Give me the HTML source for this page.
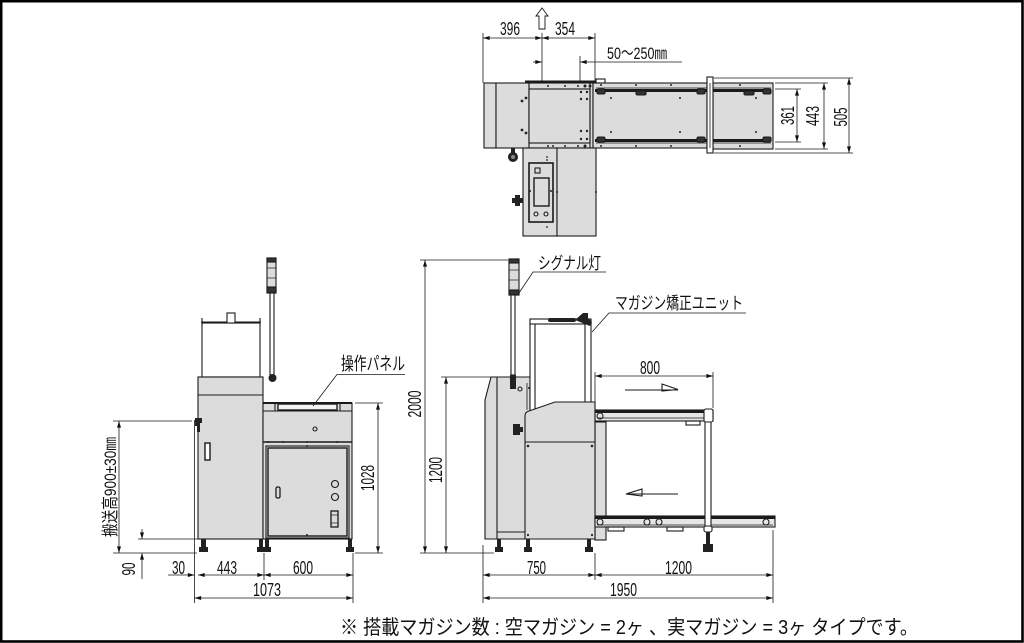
<!DOCTYPE html>
<html><head><meta charset="utf-8"><style>
html,body{margin:0;padding:0;background:#fff;}
svg{display:block;}
text{font-family:"Liberation Sans","Noto Sans CJK JP",sans-serif;fill:#111;stroke:none;}
</style></head><body>
<svg width="1024" height="643" viewBox="0 0 1024 643" xmlns="http://www.w3.org/2000/svg">
<defs>
<marker id="a" viewBox="0 0 10 6" refX="10" refY="3" markerWidth="7" markerHeight="4" orient="auto-start-reverse" markerUnits="userSpaceOnUse"><path d="M0,0L10,3L0,6z" fill="#111"/></marker>
</defs>
<rect x="0" y="0" width="1024" height="643" fill="#fff"/>
<rect x="1.2" y="1.2" width="1021.3" height="640.3" fill="none" stroke="#000" stroke-width="2.6"/>

<!-- ================= TOP VIEW ================= -->
<g stroke="#1a1a1a" stroke-width="1.1" fill="none">
<rect x="484" y="83" width="12" height="65" fill="#dcdcdc"/>
<rect x="496" y="83" width="33" height="65" fill="#dcdcdc"/>
<rect x="529" y="83" width="64" height="65" fill="#dcdcdc"/>
<rect x="529" y="89" width="61" height="54" fill="#dcdcdc"/>
<line x1="590" y1="83" x2="590" y2="148"/>
<line x1="525" y1="81.5" x2="596" y2="81.5" stroke-width="2"/>
<rect x="596" y="79" width="9" height="4" fill="#fff"/>
<rect x="593" y="83" width="114" height="65" fill="#dcdcdc"/>
<rect x="713" y="83" width="60" height="66" fill="#dcdcdc"/>
<line x1="596" y1="88" x2="771" y2="88" stroke-width="0.7"/>
<line x1="596" y1="143" x2="771" y2="143" stroke-width="0.7"/>
<line x1="595" y1="90.5" x2="771" y2="90.5" stroke-width="3"/>
<line x1="595" y1="140.5" x2="771" y2="140.5" stroke-width="3"/>
<rect x="707" y="77" width="6" height="76" fill="#fff"/>
<line x1="710" y1="83" x2="710" y2="148" stroke-width="0.8"/>
<rect x="597" y="89" width="8" height="5" rx="1.5" fill="#333"/>
<rect x="636" y="91" width="10" height="4" rx="1.5" fill="#333"/>
<rect x="697" y="89" width="8" height="5" rx="1.5" fill="#333"/>
<rect x="597" y="137" width="8" height="5" rx="1.5" fill="#333"/>
<rect x="697" y="137" width="8" height="5" rx="1.5" fill="#333"/>
<rect x="763" y="89" width="8" height="5" rx="1.5" fill="#333"/>
<rect x="763" y="137" width="8" height="5" rx="1.5" fill="#333"/>
<rect x="744" y="91" width="10" height="4" rx="1.5" fill="#333"/>
<rect x="523" y="148" width="34" height="88" fill="#dcdcdc"/>
<rect x="557" y="148" width="39" height="88" fill="#dcdcdc"/>
<rect x="529" y="163" width="24" height="59" fill="#dcdcdc" stroke-width="1.6"/>
<rect x="535" y="168" width="5" height="5"/>
<rect x="534" y="178" width="15" height="28" stroke-width="1.4"/>
<circle cx="536" cy="214" r="2"/>
<circle cx="546" cy="214" r="2"/>
</g>
<g fill="#222">
<rect x="511" y="148" width="4" height="5"/>
<circle cx="513" cy="157" r="5"/>
<circle cx="513" cy="157" r="2" fill="#888"/>
<path d="M515,195 h5 v3 h3 v5 h-3 v3 h-5 v-3 h-3 v-5 h3z"/>
<circle cx="522" cy="101" r="1.4"/><circle cx="526" cy="98" r="1.4"/>
<circle cx="522" cy="130" r="1.4"/><circle cx="526" cy="133" r="1.4"/>
<circle cx="548" cy="86" r="1"/><circle cx="565" cy="86" r="1"/><circle cx="578" cy="86" r="1"/>
<circle cx="585" cy="86" r="1.5"/><circle cx="590" cy="86" r="1.5"/>
<circle cx="548" cy="146" r="1"/><circle cx="553" cy="146" r="1"/><circle cx="565" cy="146" r="1"/><circle cx="578" cy="146" r="1"/><circle cx="585" cy="146" r="1.5"/>
<circle cx="581" cy="92" r="1.2"/><circle cx="587" cy="92" r="1.2"/><circle cx="581" cy="99" r="1.2"/><circle cx="587" cy="99" r="1.2"/>
<circle cx="581" cy="131" r="1.2"/><circle cx="587" cy="131" r="1.2"/><circle cx="581" cy="139" r="1.2"/><circle cx="587" cy="139" r="1.2"/>
<circle cx="601" cy="85" r="1"/><circle cx="636" cy="85" r="1"/><circle cx="671" cy="85" r="1"/><circle cx="740" cy="85" r="1"/>
<circle cx="601" cy="146" r="1"/><circle cx="636" cy="146" r="1"/><circle cx="671" cy="146" r="1"/><circle cx="740" cy="146" r="1"/>
<circle cx="611" cy="98" r="1"/><circle cx="680" cy="98" r="1"/><circle cx="611" cy="132" r="1"/><circle cx="680" cy="132" r="1"/>
<circle cx="756" cy="98" r="1"/><circle cx="756" cy="132" r="1"/>
<circle cx="557" cy="192" r="1"/><circle cx="596" cy="192" r="1"/><circle cx="530" cy="191" r="1"/><circle cx="551" cy="191" r="1"/>
<circle cx="547" cy="157" r="0.9"/><circle cx="547" cy="160" r="0.9"/><circle cx="547" cy="227" r="0.9"/>
</g>
<g stroke="#1a1a1a" stroke-width="0.8" fill="none">
<line x1="483" y1="33" x2="483" y2="83"/>
<line x1="542" y1="33" x2="542" y2="82"/>
<line x1="595" y1="33" x2="595" y2="81"/>
<line x1="580" y1="56" x2="580" y2="81"/>
<line x1="483" y1="38" x2="542" y2="38" marker-start="url(#a)" marker-end="url(#a)"/>
<line x1="542" y1="38" x2="595" y2="38" marker-start="url(#a)" marker-end="url(#a)"/>
<line x1="533" y1="62" x2="542" y2="62" marker-end="url(#a)"/>
<line x1="682" y1="62" x2="580" y2="62" marker-end="url(#a)"/>
<path d="M542,8 L548,16 L545,16 L545,29 L539,29 L539,16 L536,16 Z" stroke-width="0.9"/>
<line x1="714" y1="78" x2="853" y2="78"/>
<line x1="714" y1="153" x2="853" y2="153"/>
<line x1="775" y1="83" x2="828" y2="83"/>
<line x1="775" y1="149" x2="828" y2="149"/>
<line x1="775" y1="89" x2="801" y2="89"/>
<line x1="775" y1="142" x2="801" y2="142"/>
<line x1="849" y1="78" x2="849" y2="153" marker-start="url(#a)" marker-end="url(#a)"/>
<line x1="824" y1="83" x2="824" y2="149" marker-start="url(#a)" marker-end="url(#a)"/>
<line x1="797" y1="89" x2="797" y2="142" marker-start="url(#a)" marker-end="url(#a)"/>
</g>
<text x="500" y="35" font-size="18" textLength="20" lengthAdjust="spacingAndGlyphs">396</text>
<text x="555" y="35" font-size="18" textLength="20" lengthAdjust="spacingAndGlyphs">354</text>
<text x="607" y="59" font-size="17" textLength="60" lengthAdjust="spacingAndGlyphs">50～250㎜</text>
<text transform="translate(794,115.5) rotate(-90)" text-anchor="middle" font-size="18" textLength="19" lengthAdjust="spacingAndGlyphs">361</text>
<text transform="translate(819,116) rotate(-90)" text-anchor="middle" font-size="18" textLength="20" lengthAdjust="spacingAndGlyphs">443</text>
<text transform="translate(847,117) rotate(-90)" text-anchor="middle" font-size="18" textLength="19" lengthAdjust="spacingAndGlyphs">505</text>

<!-- ================= FRONT (LEFT) VIEW ================= -->
<g stroke="#1a1a1a" stroke-width="1.1" fill="none">
<rect x="267" y="258" width="9" height="35" fill="#dcdcdc"/>
<rect x="267" y="258" width="9" height="4" fill="#333"/>
<rect x="267" y="287" width="9" height="6" fill="#333"/>
<line x1="267" y1="268" x2="276" y2="268" stroke-width="0.7"/>
<line x1="267" y1="278" x2="276" y2="278" stroke-width="0.7"/>
<rect x="270" y="293" width="4" height="82" fill="#fff"/>
<rect x="202" y="323" width="58" height="54" fill="#fff"/>
<line x1="201" y1="322" x2="261" y2="322"/>
<line x1="202" y1="318" x2="202" y2="325"/>
<line x1="260" y1="318" x2="260" y2="325"/>
<rect x="227" y="313" width="8" height="10" fill="#fff"/>
<rect x="198" y="377" width="65" height="162" fill="#dcdcdc"/>
<line x1="198" y1="395" x2="263" y2="395"/>
<rect x="205" y="443" width="5" height="17" fill="#fff" stroke-width="1.4"/>
<rect x="263" y="403" width="89" height="136" fill="#dcdcdc"/>
<line x1="263" y1="403" x2="352" y2="403" stroke-width="2"/>
<line x1="263" y1="411" x2="352" y2="411"/>
<line x1="275" y1="403" x2="275" y2="411"/>
<line x1="340" y1="403" x2="340" y2="411"/>
<rect x="278" y="404" width="59" height="6" fill="#f4f4f4" stroke-width="1.4"/>
<circle cx="315" cy="429" r="2"/>
<line x1="263" y1="442" x2="352" y2="442" stroke-width="1.6"/>
<rect x="266" y="446" width="83" height="92" fill="#dcdcdc"/>
<rect x="268" y="448" width="79" height="88" fill="#dcdcdc" stroke-width="1.4"/>
<rect x="276" y="487" width="4" height="11" rx="1.5" stroke-width="1.3"/>
<circle cx="335" cy="484" r="3.5"/>
<circle cx="335" cy="497" r="3.5"/>
<rect x="331" y="511" width="7" height="16" stroke-width="1.3"/>
<line x1="331" y1="515" x2="338" y2="515" stroke-width="0.7"/>
<line x1="331" y1="523" x2="338" y2="523" stroke-width="0.7"/>
</g>
<g fill="#222">
<circle cx="272.5" cy="378" r="4"/>
<path d="M195,418 h7 v5 h-2 v9 h-3 v-6 h-2z"/>
<rect x="201" y="539" width="5" height="9"/><rect x="199" y="547" width="9" height="5"/>
<rect x="259" y="539" width="4" height="9"/><rect x="257" y="547" width="7" height="5"/>
<rect x="265" y="539" width="4" height="9"/><rect x="264" y="547" width="7" height="5"/>
<rect x="348" y="539" width="4" height="9"/><rect x="346" y="547" width="8" height="5"/>
<circle cx="268" cy="442" r="1"/><circle cx="283" cy="442" r="1"/><circle cx="307" cy="442" r="1"/><circle cx="337" cy="442" r="1"/><circle cx="307" cy="446" r="1"/>
<circle cx="307" cy="535" r="1"/>
</g>
<g stroke="#1a1a1a" stroke-width="0.8" fill="none">
<line x1="194.5" y1="420" x2="194.5" y2="603"/>
<line x1="355" y1="403" x2="383" y2="403"/>
<line x1="355" y1="553" x2="383" y2="553"/>
<line x1="378" y1="403" x2="378" y2="553" marker-start="url(#a)" marker-end="url(#a)"/>
<line x1="113" y1="421" x2="192" y2="421"/>
<line x1="113" y1="553" x2="197" y2="553"/>
<line x1="119" y1="421" x2="119" y2="553" marker-start="url(#a)" marker-end="url(#a)"/>
<line x1="138" y1="539" x2="198" y2="539"/>
<line x1="142" y1="529" x2="142" y2="539" marker-end="url(#a)"/>
<line x1="142" y1="579" x2="142" y2="553" marker-end="url(#a)"/>
<line x1="264" y1="553" x2="264" y2="580"/>
<line x1="353" y1="553" x2="353" y2="603"/>
<line x1="168" y1="575" x2="194.5" y2="575" marker-end="url(#a)"/>
<line x1="198" y1="575" x2="264" y2="575" marker-start="url(#a)" marker-end="url(#a)"/>
<line x1="264" y1="575" x2="353" y2="575" marker-start="url(#a)" marker-end="url(#a)"/>
<line x1="194.5" y1="598" x2="353" y2="598" marker-start="url(#a)" marker-end="url(#a)"/>
<polyline points="313,406 337,374.5 405,374.5"/>
</g>
<text x="341" y="370" font-size="18" textLength="64" lengthAdjust="spacingAndGlyphs">操作パネル</text>
<text transform="translate(374,478) rotate(-90)" text-anchor="middle" font-size="18" textLength="26" lengthAdjust="spacingAndGlyphs">1028</text>
<text transform="translate(116,487) rotate(-90)" text-anchor="middle" font-size="17" textLength="100" lengthAdjust="spacingAndGlyphs">搬送高900±30㎜</text>
<text transform="translate(135,569) rotate(-90)" text-anchor="middle" font-size="18" textLength="13" lengthAdjust="spacingAndGlyphs">90</text>
<text x="172" y="574" font-size="18" textLength="13" lengthAdjust="spacingAndGlyphs">30</text>
<text x="217" y="574" font-size="18" textLength="20" lengthAdjust="spacingAndGlyphs">443</text>
<text x="293" y="574" font-size="18" textLength="20" lengthAdjust="spacingAndGlyphs">600</text>
<text x="253" y="596" font-size="18" textLength="28" lengthAdjust="spacingAndGlyphs">1073</text>

<!-- ================= SIDE VIEW ================= -->
<g stroke="#1a1a1a" stroke-width="1.1" fill="none">
<path d="M485,400 L491,377 L530,377 L530,539 L485,539 Z" fill="#dcdcdc"/>
<line x1="497" y1="377" x2="497" y2="539"/>
<line x1="497" y1="532" x2="525" y2="532"/>
<rect x="509" y="259" width="10" height="36" fill="#dcdcdc"/>
<rect x="509" y="259" width="10" height="4" fill="#333"/>
<rect x="509" y="290" width="10" height="5" fill="#333"/>
<line x1="509" y1="270" x2="519" y2="270" stroke-width="0.7"/>
<line x1="509" y1="280" x2="519" y2="280" stroke-width="0.7"/>
<rect x="511" y="295" width="4" height="80" fill="#fff"/>
<circle cx="520" cy="389" r="2"/>
<rect x="530" y="320" width="5" height="92" fill="#fff"/>
<rect x="585" y="322" width="6" height="80" fill="#fff"/>
<rect x="530" y="319" width="61" height="5" fill="#fff"/>
<line x1="527" y1="383" x2="527" y2="410" stroke-width="0.8"/>
<rect x="595" y="422" width="11" height="118" fill="#dcdcdc"/>
<path d="M525,539 L525,416 Q525,412 529,411 L555,402 L595,402 L595,539 Z" fill="#dcdcdc"/>
<line x1="525" y1="442" x2="595" y2="442"/>
<rect x="595" y="410" width="118" height="11" fill="#e6e6e6"/>
<line x1="595" y1="411.5" x2="713" y2="411.5" stroke-width="3"/>
<line x1="597" y1="418" x2="706" y2="418" stroke-width="0.8"/>
<rect x="595" y="516" width="180" height="11" fill="#e6e6e6"/>
<line x1="595" y1="517.5" x2="775" y2="517.5" stroke-width="3"/>
<line x1="597" y1="525" x2="773" y2="525" stroke-width="0.8"/>
<rect x="705" y="421" width="6" height="106" fill="#fff"/>
<rect x="704" y="409" width="9" height="13" rx="2" fill="#fff"/>
<rect x="704" y="526" width="8" height="6" rx="2" fill="#fff"/>
<circle cx="600" cy="416" r="3"/>
<circle cx="600" cy="522" r="3"/>
<circle cx="647" cy="522" r="3"/>
<circle cx="659" cy="522" r="3"/>
<circle cx="766" cy="522" r="3"/>
<rect x="686" y="421" width="14" height="4"/>
<rect x="608" y="527" width="16" height="4"/>
<rect x="667" y="527" width="16" height="4"/>
<line x1="625" y1="390" x2="678" y2="390"/>
<polygon points="662,384 678,389.5 662,391"/>
<line x1="626" y1="494" x2="678" y2="494"/>
<polygon points="626,494 642,489 642,496"/>
</g>
<g fill="#222">
<rect x="510" y="375" width="6" height="14"/>
<rect x="548" y="318" width="28" height="4" rx="2"/>
<path d="M575,320 L583,313 L588,313 L588,318 L592,322 L590,326 L580,322 Z"/>
<path d="M513,424 h7 v3 h3 v5 h-3 v3 h-7z"/>
<circle cx="528" cy="446" r="1.3"/><circle cx="592" cy="446" r="1.3"/>
<circle cx="528" cy="535" r="1.1"/><circle cx="592" cy="535" r="1.1"/>
<circle cx="529" cy="388" r="1"/>
<rect x="497" y="539" width="4" height="9"/><rect x="495" y="547" width="8" height="5"/>
<rect x="526" y="539" width="4" height="9"/><rect x="524" y="547" width="8" height="5"/>
<rect x="587" y="539" width="4" height="9"/><rect x="585" y="547" width="8" height="5"/>
<rect x="706" y="532" width="4" height="12"/><rect x="703" y="544" width="10" height="8"/>
</g>
<g stroke="#1a1a1a" stroke-width="0.8" fill="none">
<line x1="420" y1="260" x2="508" y2="260"/>
<line x1="425" y1="260" x2="425" y2="553" marker-start="url(#a)" marker-end="url(#a)"/>
<line x1="441" y1="377" x2="494" y2="377"/>
<line x1="446" y1="377" x2="446" y2="553" marker-start="url(#a)" marker-end="url(#a)"/>
<line x1="420" y1="553" x2="494" y2="553"/>
<line x1="595" y1="372" x2="595" y2="402"/>
<line x1="713" y1="372" x2="713" y2="408"/>
<line x1="595" y1="376" x2="713" y2="376" marker-start="url(#a)" marker-end="url(#a)"/>
<line x1="483" y1="545" x2="483" y2="603"/>
<line x1="595" y1="553" x2="595" y2="580"/>
<line x1="773" y1="530" x2="773" y2="603"/>
<line x1="483" y1="575" x2="595" y2="575" marker-start="url(#a)" marker-end="url(#a)"/>
<line x1="595" y1="575" x2="773" y2="575" marker-start="url(#a)" marker-end="url(#a)"/>
<line x1="483" y1="598" x2="773" y2="598" marker-start="url(#a)" marker-end="url(#a)"/>
<polyline points="519,293 533,272 606,272"/>
<polyline points="592,332 609,313 746,313"/>
</g>
<text transform="translate(421,404) rotate(-90)" text-anchor="middle" font-size="18" textLength="27" lengthAdjust="spacingAndGlyphs">2000</text>
<text transform="translate(442,470) rotate(-90)" text-anchor="middle" font-size="18" textLength="26" lengthAdjust="spacingAndGlyphs">1200</text>
<text x="640" y="374" font-size="18" textLength="20" lengthAdjust="spacingAndGlyphs">800</text>
<text x="527" y="574" font-size="18" textLength="19" lengthAdjust="spacingAndGlyphs">750</text>
<text x="665" y="574" font-size="18" textLength="27" lengthAdjust="spacingAndGlyphs">1200</text>
<text x="610" y="596" font-size="18" textLength="27" lengthAdjust="spacingAndGlyphs">1950</text>
<text x="538" y="269" font-size="17" textLength="63" lengthAdjust="spacingAndGlyphs">シグナル灯</text>
<text x="615" y="309" font-size="17" textLength="128" lengthAdjust="spacingAndGlyphs">マガジン矯正ユニット</text>

<text x="340" y="634" font-size="20" textLength="578" lengthAdjust="spacingAndGlyphs">※ 搭載マガジン数 : 空マガジン = 2ヶ 、実マガジン = 3ヶ  タイプです。</text>
</svg>
</body></html>
